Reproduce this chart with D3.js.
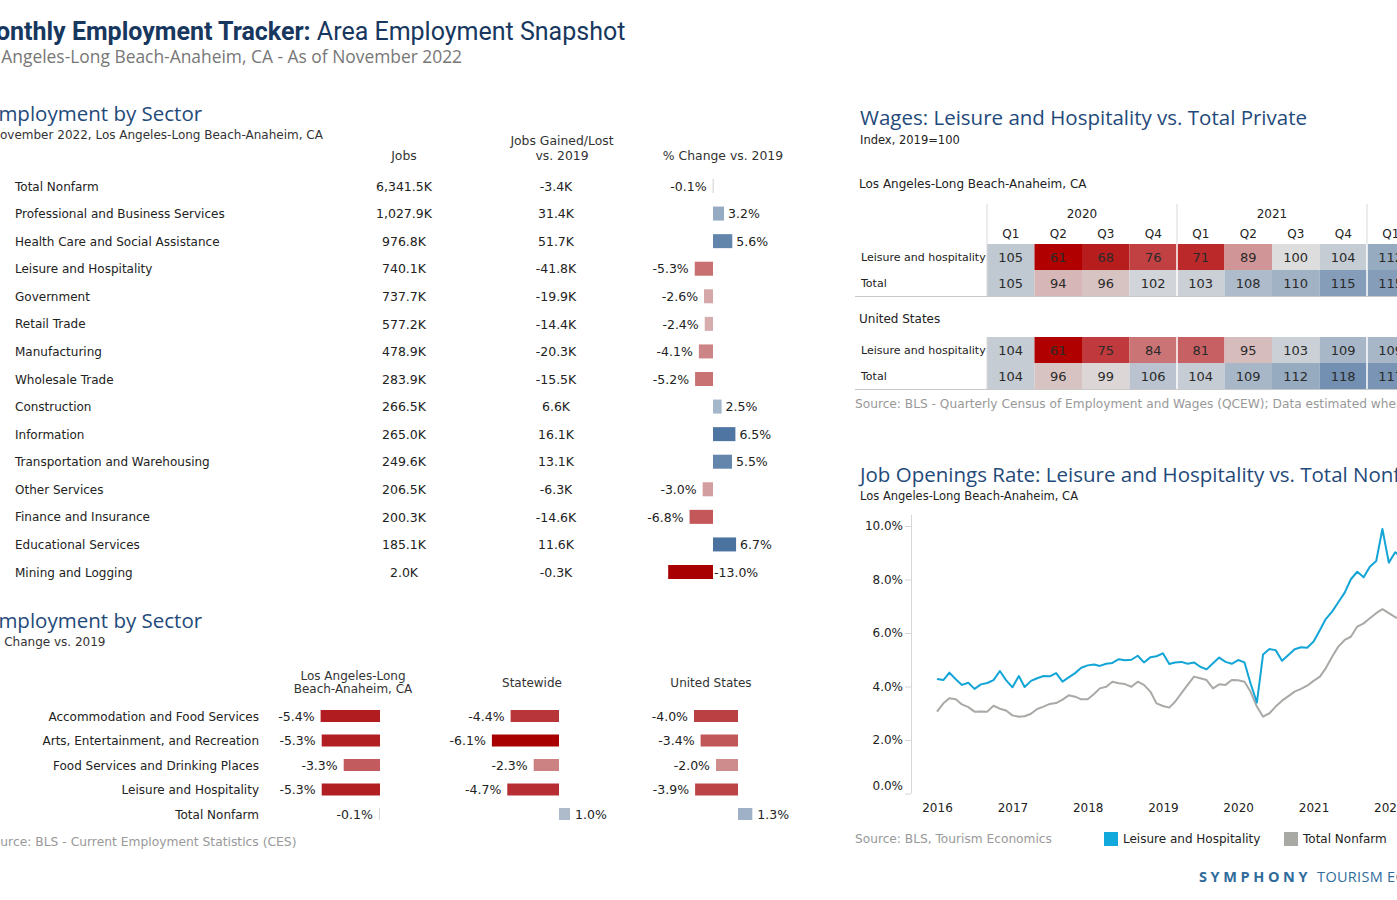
<!DOCTYPE html>
<html>
<head>
<meta charset="utf-8">
<script src="https://cdn.jsdelivr.net/npm/d3@7"></script>
<style>
  body { margin: 0; background: #fff; }
  svg { display: block; }
  .left, .right { font-family: "DejaVu Sans", Verdana, sans-serif; }
</style>
</head>
<body>
<svg class="chart"></svg>
<script>
// ---- employment by sector (top table) ----
var sectors = ["Total Nonfarm", "Professional and Business Services", "Health Care and Social Assistance",
  "Leisure and Hospitality", "Government", "Retail Trade", "Manufacturing", "Wholesale Trade", "Construction",
  "Information", "Transportation and Warehousing", "Other Services", "Finance and Insurance",
  "Educational Services", "Mining and Logging"];
var jobs = [6341.5, 1027.9, 976.8, 740.1, 737.7, 577.2, 478.9, 283.9, 266.5, 265.0, 249.6, 206.5, 200.3, 185.1, 2.0];
var jobsChange = [-3.4, 31.4, 51.7, -41.8, -19.9, -14.4, -20.3, -15.5, 6.6, 16.1, 13.1, -6.3, -14.6, 11.6, -0.3];
var pctChange = [-0.1, 3.2, 5.6, -5.3, -2.6, -2.4, -4.1, -5.2, 2.5, 6.5, 5.5, -3.0, -6.8, 6.7, -13.0];

// ---- leisure sub-sectors vs regions (bottom chart) ----
var lhCategories = ["Accommodation and Food Services", "Arts, Entertainment, and Recreation",
  "Food Services and Drinking Places", "Leisure and Hospitality", "Total Nonfarm"];
var regions = [["Los Angeles-Long", "Beach-Anaheim, CA"], ["Statewide"], ["United States"]];
var laChange = [-5.4, -5.3, -3.3, -5.3, -0.1];
var stateChange = [-4.4, -6.1, -2.3, -4.7, 1.0];
var usChange = [-4.0, -3.4, -2.0, -3.9, 1.3];

// ---- wages index heatmap ----
var wageYears = ["2020", "2021", "2022"];
var wageQuarters = ["Q1", "Q2", "Q3", "Q4", "Q1", "Q2", "Q3", "Q4", "Q1"];
var wageRows = ["Leisure and hospitality", "Total"];
var laLeisureWages = [105, 61, 68, 76, 71, 89, 100, 104, 112];
var laTotalWages = [105, 94, 96, 102, 103, 108, 110, 115, 115];
var usLeisureWages = [104, 61, 75, 84, 81, 95, 103, 109, 109];
var usTotalWages = [104, 96, 99, 106, 104, 109, 112, 118, 117];

// ---- job openings rate, monthly from Jan 2016 ----
var leisureRate = [4.28, 4.24, 4.52, 4.27, 4.06, 4.14, 3.91, 4.08, 4.13, 4.24, 4.58, 4.24,
  3.97, 4.39, 3.98, 4.21, 4.31, 4.39, 4.38, 4.50, 4.18, 4.34, 4.50, 4.70,
  4.79, 4.82, 4.77, 4.85, 4.88, 5.02, 4.98, 5.00, 5.15, 4.90, 5.09, 5.13,
  5.24, 4.84, 4.90, 4.92, 4.85, 4.90, 4.74, 4.64, 4.87, 5.08, 4.92, 4.85,
  4.99, 4.90, 4.12, 3.40, 5.20, 5.40, 5.36, 4.96, 5.18, 5.39, 5.47, 5.45,
  5.68, 6.11, 6.52, 6.80, 7.15, 7.51, 8.01, 8.29, 8.08, 8.48, 8.69, 9.89,
  8.63, 9.02, 8.85];
var nonfarmRate = [3.06, 3.37, 3.56, 3.52, 3.33, 3.23, 3.06, 3.07, 3.06, 3.28, 3.17, 3.10,
  2.92, 2.87, 2.89, 2.98, 3.16, 3.25, 3.35, 3.38, 3.51, 3.67, 3.62, 3.52,
  3.52, 3.72, 3.93, 3.99, 4.18, 4.12, 4.09, 3.99, 4.18, 4.06, 3.81, 3.37,
  3.27, 3.21, 3.43, 3.75, 4.06, 4.37, 4.31, 4.24, 3.93, 4.08, 4.06, 4.24,
  4.23, 4.18, 3.81, 3.25, 2.87, 3.00, 3.25, 3.47, 3.64, 3.81, 3.91, 4.03,
  4.21, 4.37, 4.68, 5.11, 5.49, 5.74, 5.86, 6.24, 6.36, 6.55, 6.74, 6.89,
  6.74, 6.59, 6.52];
var yearTicks = [2016, 2017, 2018, 2019, 2020, 2021, 2022];
var rateTicks = [0, 2, 4, 6, 8, 10];

// plain hyphen for negatives, like the source dashboard
d3.formatDefaultLocale({decimal: ".", thousands: ",", grouping: [3], currency: ["$", ""], minus: "-"});

var width = 1397, height = 900;
var svg = d3.select(".chart").attr("width", width).attr("height", height);

var navy = "#17375e", secBlue = "#1f4a7a", txt = "#333", srcGray = "#999";
var titleFont = "Open Sans, sans-serif";
var k1 = function(v) { return d3.format(",.1f")(v) + "K"; };
var pct = function(v) { return d3.format(".1f")(v) + "%"; };

// ---------------- header ----------------
var title = svg.append("text").attr("x", -26).attr("y", 40)
  .attr("font-family", "Roboto, sans-serif").attr("font-size", 25).attr("fill", navy);
title.append("tspan").attr("font-weight", "bold").text("Monthly Employment Tracker: ");
title.append("tspan").text("Area Employment Snapshot");

svg.append("text").attr("x", -31).attr("y", 63)
  .attr("font-family", "Open Sans, sans-serif").attr("font-size", 17.4).attr("fill", "#777")
  .text("Los Angeles-Long Beach-Anaheim, CA - As of November 2022");

// ---------------- top table ----------------
var tableG = svg.append("g").attr("class", "left");

function sectionTitle(g, x, y, t) {
  g.append("text").attr("x", x).attr("y", y)
    .attr("font-family", titleFont).attr("font-size", 20.5).attr("fill", secBlue).text(t);
}
sectionTitle(tableG, -13, 121, "Employment by Sector");
tableG.append("text").attr("x", -9).attr("y", 139).attr("font-size", 12).attr("fill", txt)
  .text("November 2022, Los Angeles-Long Beach-Anaheim, CA");

var headers = [
  {x: 404, lines: ["Jobs"]},
  {x: 562, lines: ["Jobs Gained/Lost", "vs. 2019"]},
  {x: 723, lines: ["% Change vs. 2019"]}
];
headers.forEach(function(h) {
  h.lines.forEach(function(l, i) {
    tableG.append("text").attr("x", h.x).attr("y", 160 - (h.lines.length - 1 - i) * 15)
      .attr("text-anchor", "middle").attr("font-size", 12.4).attr("fill", txt).text(l);
  });
});

var yRow = d3.scalePoint().domain(sectors).range([186, 572]);
var xPct = d3.scaleLinear().domain([-13, 0]).range([668.2, 713]);
var pctColor = d3.scaleLinear()
  .domain([-13, -6.8, -4.1, -2.4, 0, 2.5, 6.7])
  .range(["#a80000", "#c4575a", "#cc8486", "#d6acad", "#dddddd", "#a4b6ca", "#4b73a0"]);

var rows = tableG.selectAll(".row").data(sectors).enter().append("g")
  .attr("class", "row").attr("transform", function(d) { return "translate(0," + yRow(d) + ")"; });

rows.append("text").attr("x", 15).attr("dy", "0.38em").attr("font-size", 12).attr("fill", "#222")
  .text(function(d) { return d; });
rows.append("text").attr("x", 404).attr("dy", "0.38em").attr("text-anchor", "middle")
  .attr("font-size", 12.5).attr("fill", "#222").text(function(d, i) { return k1(jobs[i]); });
rows.append("text").attr("x", 556).attr("dy", "0.38em").attr("text-anchor", "middle")
  .attr("font-size", 12.5).attr("fill", "#222").text(function(d, i) { return k1(jobsChange[i]); });

rows.append("rect")
  .attr("x", function(d, i) { return Math.min(xPct(pctChange[i]), xPct(0)); })
  .attr("y", -7).attr("height", 14)
  .attr("width", function(d, i) { return Math.max(1, Math.abs(xPct(pctChange[i]) - xPct(0))); })
  .attr("fill", function(d, i) { return Math.abs(pctChange[i]) < 0.5 ? "#d0d0d0" : pctColor(pctChange[i]); });
rows.append("text")
  .attr("x", function(d, i) { var v = pctChange[i]; return v < 0 ? (v < -10 ? xPct(0) + 1 : xPct(v) - 6) : xPct(v) + 4; })
  .attr("text-anchor", function(d, i) { var v = pctChange[i]; return v < 0 && v >= -10 ? "end" : "start"; })
  .attr("dy", "0.38em").attr("font-size", 12.5).attr("fill", "#222")
  .text(function(d, i) { return pct(pctChange[i]); });

// ---------------- bottom chart ----------------
var bot = svg.append("g").attr("class", "left");
sectionTitle(bot, -13, 628, "Employment by Sector");
bot.append("text").attr("x", -11).attr("y", 646).attr("font-size", 12).attr("fill", txt).text("% Change vs. 2019");

var regionZero = [380, 559, 738];
var regionCenter = [353, 532, 711];
var regionValues = [laChange, stateChange, usChange];
var yLh = d3.scalePoint().domain(lhCategories).range([716, 814]);
var xBar = d3.scaleLinear().domain([0, 1]).range([0, 11]);
var lhColor = d3.scaleLinear()
  .domain([-6.1, -5.4, -4.0, -2.0, 0, 1.3])
  .range(["#a80000", "#b11c20", "#bb4043", "#cf8c8d", "#dddddd", "#9fb1c6"]);

regions.forEach(function(r, j) {
  r.forEach(function(l, i) {
    bot.append("text").attr("x", regionCenter[j])
      .attr("y", r.length === 1 ? 687 : 680 + i * 13)
      .attr("text-anchor", "middle").attr("font-size", 12).attr("fill", txt).text(l);
  });
});

bot.selectAll(".lhlabel").data(lhCategories).enter().append("text")
  .attr("x", 259).attr("y", function(d) { return yLh(d); }).attr("dy", "0.38em")
  .attr("text-anchor", "end").attr("font-size", 12).attr("fill", "#222").text(function(d) { return d; });

regionValues.forEach(function(vals, j) {
  var z = regionZero[j];
  var g = bot.append("g");
  g.selectAll("rect").data(vals).enter().append("rect")
    .attr("x", function(v) { return v < 0 ? z - xBar(-v) : z; })
    .attr("y", function(v, i) { return yLh(lhCategories[i]) - 6; })
    .attr("height", 12)
    .attr("width", function(v) { return Math.max(1, xBar(Math.abs(v))); })
    .attr("fill", function(v) { return Math.abs(v) < 0.5 ? "#dadada" : lhColor(v); });
  g.selectAll("text").data(vals).enter().append("text")
    .attr("x", function(v) { return v < 0 ? z - xBar(-v) - 6 : z + xBar(v) + 5; })
    .attr("y", function(v, i) { return yLh(lhCategories[i]); }).attr("dy", "0.38em")
    .attr("text-anchor", function(v) { return v < 0 ? "end" : "start"; })
    .attr("font-size", 12.5).attr("fill", "#222").text(pct);
});

bot.append("text").attr("x", -15).attr("y", 846).attr("font-size", 12.3).attr("fill", srcGray)
  .text("Source: BLS - Current Employment Statistics (CES)");

// ---------------- wages heatmap ----------------
var wg = svg.append("g").attr("class", "right");
wg.append("text").attr("x", 860).attr("y", 125).attr("font-family", titleFont)
  .attr("font-size", 20.5).attr("fill", secBlue).text("Wages: Leisure and Hospitality vs. Total Private");
wg.append("text").attr("x", 860).attr("y", 144).attr("font-size", 11.5).attr("fill", "#222").text("Index, 2019=100");

var xCell = d3.scaleBand().domain(d3.range(wageQuarters.length)).range([987, 987 + 47.5 * wageQuarters.length]);
var wageColor = d3.scaleLinear().domain([61, 75, 100, 118]).range(["#b00000", "#c0393c", "#dddddd", "#7390b2"]);

// year and quarter headers
wageYears.forEach(function(yr, i) {
  wg.append("text").attr("x", xCell(i * 4) + xCell.bandwidth() * 2).attr("y", 218)
    .attr("text-anchor", "middle").attr("font-size", 12).attr("fill", "#222").text(yr);
});
wg.selectAll(".qlab").data(wageQuarters).enter().append("text")
  .attr("x", function(d, i) { return xCell(i) + xCell.bandwidth() / 2; }).attr("y", 238)
  .attr("text-anchor", "middle").attr("font-size", 12).attr("fill", "#222").text(function(d) { return d; });

var wageSections = [
  {name: "Los Angeles-Long Beach-Anaheim, CA", ny: 188, top: 244, data: [laLeisureWages, laTotalWages], lineTop: 204},
  {name: "United States", ny: 323, top: 337, data: [usLeisureWages, usTotalWages], lineTop: 337}
];
var rowH = 26;
wageSections.forEach(function(s) {
  wg.append("text").attr("x", 859).attr("y", s.ny).attr("font-size", 12).attr("fill", "#222").text(s.name);
  s.data.forEach(function(vals, r) {
    var y0 = s.top + r * rowH;
    wg.append("text").attr("x", 861).attr("y", y0 + rowH / 2).attr("dy", "0.35em")
      .attr("font-size", 11).attr("fill", "#222").text(wageRows[r]);
    wg.selectAll(null).data(vals).enter().append("rect")
      .attr("x", function(v, i) { return xCell(i); }).attr("y", y0)
      .attr("width", xCell.bandwidth()).attr("height", rowH)
      .attr("fill", function(v) { return wageColor(v); });
    wg.selectAll(null).data(vals).enter().append("text")
      .attr("x", function(v, i) { return xCell(i) + xCell.bandwidth() / 2; })
      .attr("y", y0 + rowH / 2).attr("dy", "0.36em").attr("text-anchor", "middle")
      .attr("font-size", 13).attr("fill", "#2a2a2a").text(function(v) { return v; });
  });
  var bottomY = s.top + 2 * rowH;
  // year separators
  [4, 8].forEach(function(i) {
    wg.append("line").attr("x1", xCell(i)).attr("x2", xCell(i)).attr("y1", s.lineTop).attr("y2", s.top)
      .attr("stroke", "#d9d9d9");
    wg.append("line").attr("x1", xCell(i)).attr("x2", xCell(i)).attr("y1", s.top).attr("y2", bottomY)
      .attr("stroke", "#fff").attr("stroke-width", 1.5);
  });
  wg.append("line").attr("x1", 987).attr("x2", 987).attr("y1", s.lineTop).attr("y2", bottomY).attr("stroke", "#d9d9d9");
  wg.append("line").attr("x1", 855).attr("x2", width).attr("y1", bottomY + 0.5).attr("y2", bottomY + 0.5)
    .attr("stroke", "#c8c8c8");
});
wg.append("text").attr("x", 855).attr("y", 408).attr("font-size", 12.2).attr("fill", srcGray)
  .text("Source: BLS - Quarterly Census of Employment and Wages (QCEW); Data estimated where not available");

// ---------------- job openings line chart ----------------
var lc = svg.append("g").attr("class", "right");
lc.append("text").attr("x", 860).attr("y", 482).attr("font-family", titleFont)
  .attr("font-size", 20.5).attr("fill", secBlue).text("Job Openings Rate: Leisure and Hospitality vs. Total Nonfarm");
lc.append("text").attr("x", 860).attr("y", 500).attr("font-size", 11.5).attr("fill", "#222")
  .text("Los Angeles-Long Beach-Anaheim, CA");

var months = d3.timeMonth.range(new Date(2016, 0, 1), new Date(2016, 0 + leisureRate.length, 1));
var xTime = d3.scaleTime().domain([new Date(2016, 0, 1), new Date(2022, 0, 1)]).range([937, 1388.8]);
var yRate = d3.scaleLinear().domain([0, 10]).range([793.5, 526]);

var yAxis = lc.append("g").attr("transform", "translate(911,0)")
  .call(d3.axisLeft(yRate).tickValues(rateTicks).tickSize(6).tickPadding(2)
    .tickFormat(function(v) { return d3.format(".1f")(v) + "%"; }));
yAxis.select(".domain").remove();
yAxis.selectAll(".tick line").attr("stroke", "#d6d6d6");
yAxis.selectAll(".tick text").attr("font-family", "DejaVu Sans, sans-serif").attr("font-size", 12).attr("fill", "#222");
yAxis.selectAll(".tick").filter(function(d) { return d === 0; }).select("text").attr("dy", "-0.3em");
lc.append("line").attr("x1", 911.5).attr("x2", 911.5).attr("y1", 515).attr("y2", 793.5).attr("stroke", "#d6d6d6");

var xAxis = lc.append("g").attr("transform", "translate(0,800)")
  .call(d3.axisBottom(xTime).tickValues(yearTicks.map(function(y) { return new Date(y, 0, 1); }))
    .tickSize(0).tickPadding(3).tickFormat(d3.timeFormat("%Y")));
xAxis.select(".domain").remove();
xAxis.selectAll(".tick text").attr("font-family", "DejaVu Sans, sans-serif").attr("font-size", 12).attr("fill", "#222");

var line = d3.line().x(function(d, i) { return xTime(months[i]); }).y(function(d) { return yRate(d); });
lc.append("path").datum(nonfarmRate).attr("d", line).attr("fill", "none")
  .attr("stroke", "#a9a9a6").attr("stroke-width", 2).attr("stroke-linejoin", "round");
lc.append("path").datum(leisureRate).attr("d", line).attr("fill", "none")
  .attr("stroke", "#14a5d7").attr("stroke-width", 2).attr("stroke-linejoin", "round");

lc.append("text").attr("x", 855).attr("y", 843).attr("font-size", 12.2).attr("fill", srcGray)
  .text("Source: BLS, Tourism Economics");
var legend = [{name: "Leisure and Hospitality", color: "#11a9dc", x: 1104}, {name: "Total Nonfarm", color: "#a8a8a4", x: 1284}];
legend.forEach(function(l) {
  lc.append("rect").attr("x", l.x).attr("y", 832).attr("width", 14).attr("height", 14).attr("fill", l.color);
  lc.append("text").attr("x", l.x + 19).attr("y", 843).attr("font-size", 12).attr("fill", "#222").text(l.name);
});

// logo
var logo = svg.append("text").attr("x", 1199).attr("y", 882).attr("fill", "#2f6c9c")
  .attr("font-family", "Open Sans, sans-serif").attr("font-size", 14.5);
logo.append("tspan").attr("font-weight", "bold").attr("letter-spacing", 3.6).text("SYMPHONY");
logo.append("tspan").attr("dx", 6).attr("letter-spacing", 0.3).text("TOURISM ECONOMICS");
</script>
</body>
</html>
